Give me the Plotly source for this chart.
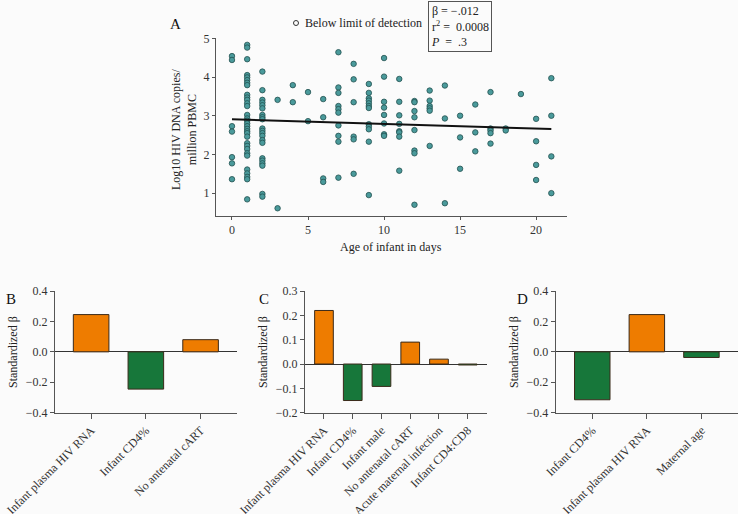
import plotly.graph_objects as go

# ---------------- Data ----------------
age_days = (
    [0] * 7 + [1] * 32 + [2] * 21 + [3] * 2 + [4] * 2 + [5] * 2 + [6] * 4 + [7] * 10 +
    [8] * 6 + [9] * 12 + [10] * 8 + [11] * 8 + [12] * 8 + [13] * 6 + [14] * 3 + [15] * 3 +
    [16] * 3 + [17] * 5 + [18] * 2 + [19] * 1 + [20] * 4 + [21] * 4
)
log10_dna = [
    4.54, 4.44, 2.73, 2.59, 1.93, 1.77, 1.36,
    4.83, 4.76, 4.46, 4.05, 3.99, 3.92, 3.85, 3.79, 3.54, 3.47, 3.41, 3.32, 3.25, 3.02, 2.93, 2.87,
    2.80, 2.73, 2.66, 2.60, 2.55, 2.46, 2.29, 2.22, 2.14, 2.03, 1.97, 1.61, 1.51, 1.42, 1.36, 0.84,
    4.14, 3.66, 3.41, 3.34, 3.27, 3.19, 3.02, 2.96, 2.91, 2.67, 2.61, 2.55, 2.48, 2.37, 2.30, 1.90,
    1.84, 1.77, 1.71, 0.98, 0.91,
    3.41, 0.61,
    3.79, 3.35,
    3.61, 2.86,
    3.43, 2.96, 1.38, 1.29,
    4.64, 3.73, 3.59, 3.25, 3.17, 3.08, 2.75, 2.48, 2.33, 1.40,
    4.34, 3.94, 3.35, 2.46, 2.39, 1.50,
    3.82, 3.59, 3.45, 3.39, 3.32, 3.25, 3.20, 2.78, 2.72, 2.65, 2.33, 0.95,
    4.49, 4.01, 3.36, 3.21, 3.02, 2.80, 2.52, 2.48,
    3.95, 3.36, 3.01, 2.79, 2.60, 2.57, 2.46, 1.58,
    3.38, 3.35, 3.12, 2.96, 2.63, 2.10, 2.03, 0.70,
    3.65, 3.39, 3.25, 3.19, 3.13, 2.22,
    3.78, 2.93, 0.74,
    3.00, 2.44, 1.63,
    3.29, 2.57, 2.08,
    3.61, 2.67, 2.62, 2.55, 2.28,
    2.67, 2.62,
    3.56,
    2.92, 2.34, 1.73, 1.34,
    3.97, 3.00, 1.95, 1.00,
]
fit_intercept = 2.91
fit_slope = -0.012
fit_x = [0, 21]

b_labels = ["Infant plasma HIV RNA", "Infant CD4%", "No antenatal cART"]
b_values = [0.245, -0.245, 0.08]

c_labels = ["Infant plasma HIV RNA", "Infant CD4%", "Infant male", "No antenatal cART",
            "Acute maternal infection", "Infant CD4:CD8"]
c_values = [0.22, -0.15, -0.092, 0.09, 0.02, -0.004]

d_labels = ["Infant CD4%", "Infant plasma HIV RNA", "Maternal age"]
d_values = [-0.315, 0.245, -0.037]

# ---------------- Style ----------------
W, H = 738, 514
FONT = "Liberation Serif"
ORANGE = "#EE7C00"
GREEN = "#17773A"
TEAL = "#4A9A9B"
AXIS = "#555555"
BG = "#FBFBFB"
FS = 12


def px(x):
    return x / W


def py(y):
    return 1 - y / H


fig = go.Figure()

# Panel A scatter
fig.add_trace(go.Scatter(
    x=age_days, y=log10_dna, mode="markers",
    marker=dict(size=5.5, color=TEAL, line=dict(color="#22504F", width=0.8)),
    xaxis="x", yaxis="y", showlegend=False, hoverinfo="x+y",
))
fig.add_trace(go.Scatter(
    x=fit_x, y=[fit_intercept + fit_slope * v for v in fit_x], mode="lines",
    line=dict(color="#111111", width=2), xaxis="x", yaxis="y", showlegend=False,
))


def bar_colors(vals):
    return [ORANGE if v >= 0 else GREEN for v in vals]


for vals, labels, xa, ya in [(b_values, b_labels, "x2", "y2"),
                             (c_values, c_labels, "x3", "y3"),
                             (d_values, d_labels, "x4", "y4")]:
    fig.add_trace(go.Bar(
        x=list(range(len(labels))), y=vals, width=0.65,
        marker=dict(color=bar_colors(vals), line=dict(color="#3a2a1a", width=1)),
        xaxis=xa, yaxis=ya, showlegend=False,
    ))

tickfont = dict(family=FONT, size=FS, color="#333333")

common_axis = dict(showgrid=False, showline=True, linecolor=AXIS, linewidth=1,
                   ticks="outside", tickcolor=AXIS, tickfont=tickfont, automargin=False)

top_bar = 291
bot_bar = 412.7

fig.update_layout(
    width=W, height=H,
    margin=dict(l=0, r=0, t=0, b=0, autoexpand=False),
    paper_bgcolor=BG, plot_bgcolor=BG,
    font=dict(family=FONT, size=FS, color="#222222"),
    showlegend=False,
    xaxis=dict(domain=[px(216), px(567.3)], range=[-1.05, 22.05], tickvals=[0, 5, 10, 15, 20],
               ticklen=3, zeroline=False, anchor="y", **common_axis),
    yaxis=dict(domain=[py(216), py(38.3)], range=[0.41, 5], tickvals=[1, 2, 3, 4, 5],
               ticklen=3, zeroline=False, anchor="x", **common_axis),
    xaxis2=dict(domain=[px(55), px(236.7)], range=[-0.66, 2.66], tickvals=[0, 1, 2],
                ticktext=b_labels, tickangle=-45, ticklen=5, zeroline=False, anchor="y2", **common_axis),
    yaxis2=dict(domain=[py(bot_bar), py(top_bar)], range=[-0.4, 0.4], tickvals=[-0.4, -0.2, 0, 0.2, 0.4],
                tickformat=".1f", ticklen=4, zeroline=True, zerolinecolor="#333333", zerolinewidth=1,
                anchor="x2", **common_axis),
    xaxis3=dict(domain=[px(305), px(486.7)], range=[-0.66, 5.66], tickvals=list(range(6)),
                ticktext=c_labels, tickangle=-45, ticklen=5, zeroline=False, anchor="y3", **common_axis),
    yaxis3=dict(domain=[py(bot_bar), py(top_bar)], range=[-0.2, 0.3], tickvals=[-0.2, -0.1, 0, 0.1, 0.2, 0.3],
                tickformat=".1f", ticklen=4, zeroline=True, zerolinecolor="#333333", zerolinewidth=1,
                anchor="x3", **common_axis),
    xaxis4=dict(domain=[px(555.7), 1.0], range=[-0.67, 2.67], tickvals=[0, 1, 2],
                ticktext=d_labels, tickangle=-45, ticklen=5, zeroline=False, anchor="y4", **common_axis),
    yaxis4=dict(domain=[py(bot_bar), py(top_bar)], range=[-0.4, 0.4], tickvals=[-0.4, -0.2, 0, 0.2, 0.4],
                tickformat=".1f", ticklen=4, zeroline=True, zerolinecolor="#333333", zerolinewidth=1,
                anchor="x4", **common_axis),
)

ann = []
# Panel letters
for letter, x, y in [("A", 175, 24), ("B", 11, 299), ("C", 264, 299), ("D", 522, 299)]:
    ann.append(dict(text=letter, x=px(x), y=py(y), xref="paper", yref="paper",
                    xanchor="center", yanchor="middle",
                    showarrow=False, font=dict(family=FONT, size=15, color="#111111")))

# Scatter axis titles
ann.append(dict(text="Log10 HIV DNA copies/<br>million PBMC", x=px(184), y=py(130),
                xref="paper", yref="paper", xanchor="center", yanchor="middle",
                showarrow=False, textangle=-90,
                font=dict(family=FONT, size=FS, color="#222222")))
ann.append(dict(text="Age of infant in days", x=px(391), y=py(247), xref="paper", yref="paper",
                xanchor="center", yanchor="middle",
                showarrow=False, font=dict(family=FONT, size=FS, color="#222222")))

# Standardized beta titles
for x in [13, 263, 514]:
    ann.append(dict(text="Standardized β", x=px(x), y=py(352), xref="paper", yref="paper",
                    xanchor="center", yanchor="middle",
                    showarrow=False, textangle=-90, font=dict(family=FONT, size=FS, color="#222222")))

# Legend-like text
ann.append(dict(text="Below limit of detection", x=px(303), y=py(23), xref="paper", yref="paper",
                xanchor="left", yanchor="middle", showarrow=False,
                font=dict(family=FONT, size=FS, color="#222222")))

# Stats box
ann.append(dict(text="β = −.012<br>r<sup>2</sup> =  0.0008<br><i>P</i>  =  .3",
                x=px(428), y=py(0.5), xref="paper", yref="paper", xanchor="left", yanchor="top",
                align="left", showarrow=False, bordercolor="#555555", borderwidth=1, borderpad=2,
                bgcolor=BG, font=dict(family=FONT, size=FS, color="#222222")))

fig.update_layout(annotations=ann)

fig.add_shape(type="circle", xref="paper", yref="paper",
              x0=px(293.5), x1=px(298.5), y0=py(25.5), y1=py(20.5),
              line=dict(color="#333333", width=1))

fig.write_html("out.html", config={"displayModeBar": False},
               post_script="document.body.style.margin='0';")
